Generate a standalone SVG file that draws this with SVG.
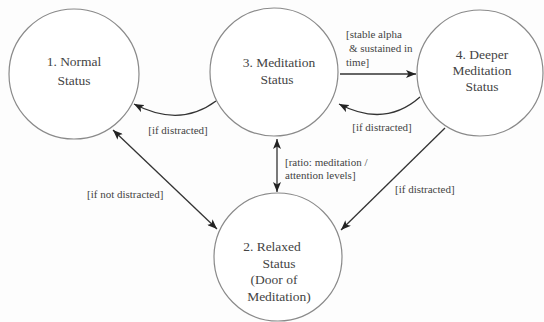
<svg xmlns="http://www.w3.org/2000/svg" width="544" height="322" viewBox="0 0 544 322">
<style>
.node circle{fill:#fff;stroke:#8a8a8a;stroke-width:1.2}
.node text{font-size:13.5px;fill:#444;text-anchor:middle}
.conn path{fill:none;stroke:#333;stroke-width:1.3}
.lbl{font-size:11px;fill:#444}
</style>
<defs>
<marker id="ah" markerUnits="userSpaceOnUse" viewBox="0 0 10 8" refX="10" refY="4" markerWidth="10" markerHeight="8" orient="auto-start-reverse">
<path d="M0,0 L10,4 L0,8 L2.5,4 Z" fill="#222"/>
</marker>
</defs>
<rect width="544" height="322" fill="#fdfdfd"/>
<g font-family="Liberation Serif, Times New Roman, serif">
<g id="n1" class="node">
<circle cx="74" cy="74" r="65"/>
<text x="74" y="66">1. Normal</text>
<text x="74" y="85">Status</text>
</g>
<g id="n3" class="node">
<circle cx="274" cy="72" r="64"/>
<text x="279" y="67">3. Meditation</text>
<text x="277" y="84">Status</text>
</g>
<g id="n4" class="node">
<circle cx="480" cy="73" r="63"/>
<text x="482" y="59">4. Deeper</text>
<text x="482" y="75">Meditation</text>
<text x="482" y="91">Status</text>
</g>
<g id="n2" class="node">
<circle cx="278" cy="257" r="64"/>
<text x="272" y="251">2. Relaxed</text>
<text x="279" y="268">Status</text>
<text x="274" y="284">(Door of</text>
<text x="279" y="301">Meditation)</text>
</g>
<g id="connectors" class="conn">
<path d="M216,101 Q180,128 134,104" marker-end="url(#ah)"/>
<path d="M420,97 Q385,128 339,104" marker-end="url(#ah)"/>
<path d="M340,74 L416,74" marker-end="url(#ah)"/>
<path d="M277,139 L277,192" marker-start="url(#ah)" marker-end="url(#ah)"/>
<path d="M113,130 L217,229" marker-start="url(#ah)" marker-end="url(#ah)"/>
<path d="M445,128 L341,230" marker-end="url(#ah)"/>
</g>
<g id="labels" class="lbl">
<text x="178" y="134" text-anchor="middle">[if distracted]</text>
<text x="382" y="131" text-anchor="middle">[if distracted]</text>
<text x="346" y="38">[stable alpha</text>
<text x="349" y="52">&amp; sustained in</text>
<text x="346" y="66">time]</text>
<text x="285" y="166">[ratio: meditation /</text>
<text x="285" y="179">attention  levels]</text>
<text x="87" y="198">[if not distracted]</text>
<text x="395" y="193">[if distracted]</text>
</g>
</g>
</svg>
